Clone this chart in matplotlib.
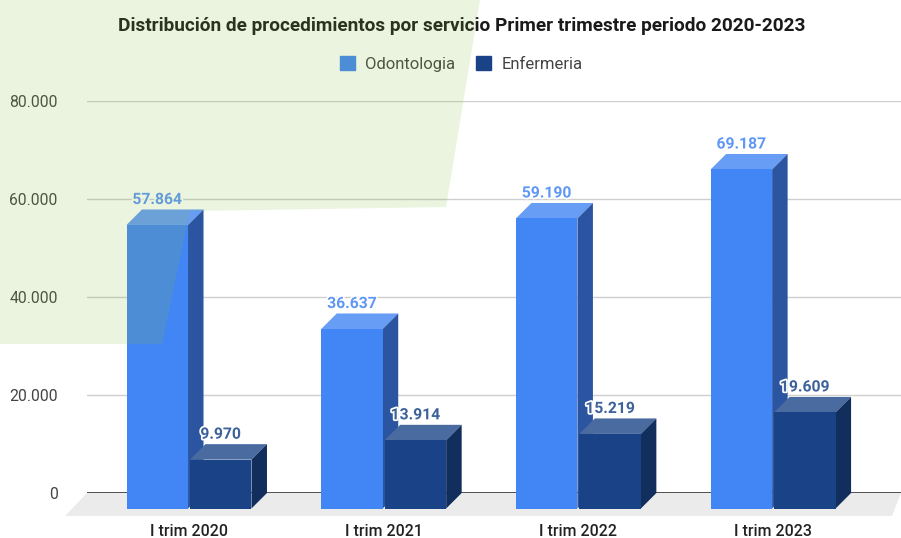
import matplotlib
matplotlib.use("Agg")
from matplotlib import pyplot as plt
from matplotlib.patches import Polygon, Patch
import matplotlib.patheffects as pe

plt.rcParams["font.family"] = ["Roboto", "DejaVu Sans"]

categories = ["I trim 2020", "I trim 2021", "I trim 2022", "I trim 2023"]
odontologia = [57864, 36637, 59190, 69187]
enfermeria = [9970, 13914, 15219, 19609]
y_ticks = [0, 20000, 40000, 60000, 80000]
y_labels = ["0", "20.000", "40.000", "60.000", "80.000"]

W, H = 901, 538
LEFT, BASE, TOP = 87, 493, 101
SPACING = 194.7

fig = plt.figure(figsize=(W / 100, H / 100), dpi=100)
ax = fig.add_axes([LEFT / W, 1 - BASE / H, (W - LEFT) / W, (BASE - TOP) / H])
ax.set_xlim((LEFT - 189) / SPACING, (W - 189) / SPACING)
ax.set_ylim(0, 80000)

# depth of the fake 3d effect, 15.5 pixels in data units
dx = 15.5 / SPACING
dy = 15.5 * 80000 / (BASE - TOP)
bar_w = 61.5 / SPACING


# Draws one bar: front face through ax.bar, then the top and the side
def bar3d(x, value, front, top, side, z):
	ax.bar(x, value, bar_w, bottom=-dy, align="edge", color=front, zorder=z + 0.2, clip_on=False)
	y = value - dy
	ax.add_patch(Polygon([(x, y), (x + dx, value), (x + bar_w + dx, value), (x + bar_w, y)],
		facecolor=top, edgecolor="none", zorder=z, clip_on=False))
	ax.add_patch(Polygon([(x + bar_w, y), (x + bar_w + dx, value), (x + bar_w + dx, 0), (x + bar_w, -dy)],
		facecolor=side, edgecolor="none", zorder=z, clip_on=False))


# floor under the bars
fx = 22 / SPACING
ax.add_patch(Polygon([(ax.get_xlim()[0], 0), (ax.get_xlim()[1], 0),
	(ax.get_xlim()[1] - 9 / SPACING, -dy * 1.48), (ax.get_xlim()[0] - fx, -dy * 1.48)],
	facecolor="#ebebeb", edgecolor="none", zorder=1, clip_on=False))

for i in range(len(categories)):
	bar3d(i - bar_w - 0.005, odontologia[i], "#4285f4", "#689df6", "#2b55a0", 3)
	bar3d(i + 0.005, enfermeria[i], "#1a4387", "#4a6ba0", "#122e5c", 4)
	ax.text(i - bar_w / 2 - 0.005, odontologia[i] + 500, f"{odontologia[i]:,}".replace(",", "."),
		ha="center", va="bottom", fontsize=11.3, fontweight="bold", color="#5f97f5", zorder=6,
		path_effects=[pe.withStroke(linewidth=2.5, foreground="white")])
	ax.text(i + bar_w / 2 + 0.005, enfermeria[i] + 500, f"{enfermeria[i]:,}".replace(",", "."),
		ha="center", va="bottom", fontsize=11.3, fontweight="bold", color="#3d619b", zorder=6,
		path_effects=[pe.withStroke(linewidth=2.5, foreground="white")])

ax.set_yticks(y_ticks, y_labels, fontsize=11.3, color="#444444")
ax.set_xticks(range(len(categories)), categories, fontsize=11.4, fontweight="medium", color="#222222")
ax.tick_params(axis="y", length=0, pad=21)
ax.tick_params(axis="x", length=0, pad=22)
for t in ax.get_yticklabels():
	t.set_verticalalignment("center_baseline")
ax.grid(axis="y", color="#cfcfcf", linewidth=1, zorder=0)
ax.set_axisbelow(True)
for s in ax.spines.values():
	s.set_visible(False)
ax.axhline(0, color="#333333", linewidth=1.2, zorder=2)

fig.text(461.5 / W, 1 - 26 / H, "Distribución de procedimientos por servicio Primer trimestre periodo 2020-2023",
	ha="center", va="center", fontsize=13.7, fontweight="bold", color="#1a1a1a")

handles = [Patch(color="#4285f4", label="Odontologia"), Patch(color="#1a4387", label="Enfermeria")]
fig.legend(handles=handles, loc="center", bbox_to_anchor=(461 / W, 1 - 64 / H), ncols=2, frameon=False,
	fontsize=12, labelcolor="#444444", handlelength=0.95, handleheight=0.95,
	handletextpad=0.6, columnspacing=1.2)

# pale green shape laid over the top left corner of the picture
shape = [(0, 0), (480, 0), (446, 207), (190, 211), (162, 344), (0, 344)]
fig.add_artist(Polygon([(x / W, 1 - y / H) for x, y in shape], closed=True, transform=fig.transFigure,
	facecolor="#82bb3c", alpha=0.16, edgecolor="none", zorder=10))

fig.savefig("out.png", dpi=100)
